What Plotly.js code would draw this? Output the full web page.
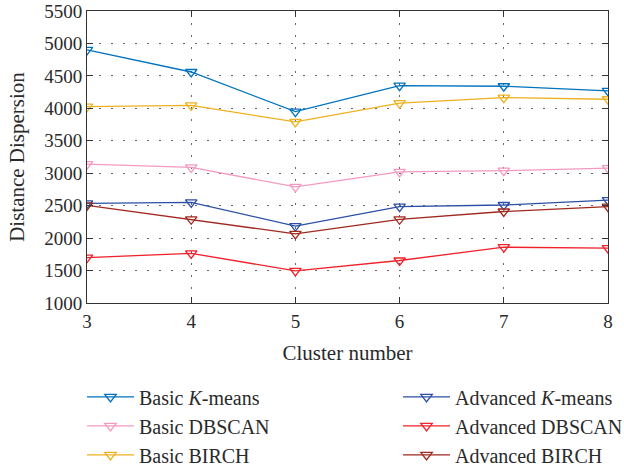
<!DOCTYPE html>
<html><head><meta charset="utf-8">
<script src="https://cdn.plot.ly/plotly-3.0.1.min.js"></script>
<style>body{margin:0;padding:0;background:#fff}#chart{width:624px;height:466px}</style>
</head><body><div id="chart"></div>
<script>
const clusters = [3, 4, 5, 6, 7, 8];
const basicKmeans = [4900, 4560, 3950, 4350, 4340, 4270];
const basicDBSCAN = [3140, 3090, 2790, 3020, 3040, 3080];
const basicBIRCH = [4025, 4045, 3790, 4080, 4165, 4140];
const advKmeans = [2535, 2550, 2185, 2485, 2510, 2585];
const advDBSCAN = [1700, 1765, 1495, 1655, 1860, 1845];
const advBIRCH = [2505, 2290, 2065, 2290, 2410, 2485];
const yTicks = [1000, 1500, 2000, 2500, 3000, 3500, 4000, 4500, 5000, 5500];

const FONT = '"Liberation Serif", "Times New Roman", serif';
const INK = '#2a2a2a';
function tr(name, y, color, legend) {
  return {x: clusters, y: y, name: name, type: 'scatter', mode: 'lines+markers',
    line: {color: color, width: 1.3},
    marker: {symbol: 'triangle-down-open', size: 10, color: color, line: {width: 1.3, color: color}},
    legend: legend};
}
const data = [
  tr('Basic <i>K</i>-means', basicKmeans, '#0072BD', 'legend'),
  tr('Basic DBSCAN', basicDBSCAN, '#F49AC2', 'legend'),
  tr('Basic BIRCH', basicBIRCH, '#EDB120', 'legend'),
  tr('Advanced <i>K</i>-means', advKmeans, '#2B4FA6', 'legend2'),
  tr('Advanced DBSCAN', advDBSCAN, '#F0212A', 'legend2'),
  tr('Advanced BIRCH', advBIRCH, '#A0281E', 'legend2')
];
const axisCommon = {
  showline: true, mirror: 'allticks', linecolor: '#333', linewidth: 1,
  ticks: 'inside', ticklen: 6, tickcolor: '#333',
  showgrid: true, gridcolor: '#666', griddash: '2px,10px', gridwidth: 1,
  zeroline: false, tickfont: {family: FONT, size: 19, color: INK}
};
const legendFont = {family: FONT, size: 20, color: INK};
const layout = {
  width: 624, height: 466,
  margin: {l: 87, r: 16, t: 11, b: 163, autoexpand: false},
  paper_bgcolor: '#fff', plot_bgcolor: '#fff',
  font: {family: FONT, color: INK, size: 19},
  showlegend: true,
  xaxis: Object.assign({}, axisCommon, {range: [3, 8], tickvals: clusters, ticklabelstandoff: 1,
    title: {text: 'Cluster number', font: {family: FONT, size: 21, color: INK}, standoff: 14}}),
  yaxis: Object.assign({}, axisCommon, {range: [1000, 5500], tickvals: yTicks,
    title: {text: 'Distance Dispersion', font: {family: FONT, size: 21, color: INK}, standoff: 13}}),
  legend: {x: -0.0096, y: -0.255, xanchor: 'left', yanchor: 'top', bgcolor: 'rgba(0,0,0,0)',
    font: legendFont, tracegroupgap: 0, itemwidth: 47},
  legend2: {x: 0.597, y: -0.255, xanchor: 'left', yanchor: 'top', bgcolor: 'rgba(0,0,0,0)',
    font: legendFont, tracegroupgap: 0, itemwidth: 47}
};
Plotly.newPlot('chart', data, layout, {displayModeBar: false, staticPlot: true});
</script></body></html>
